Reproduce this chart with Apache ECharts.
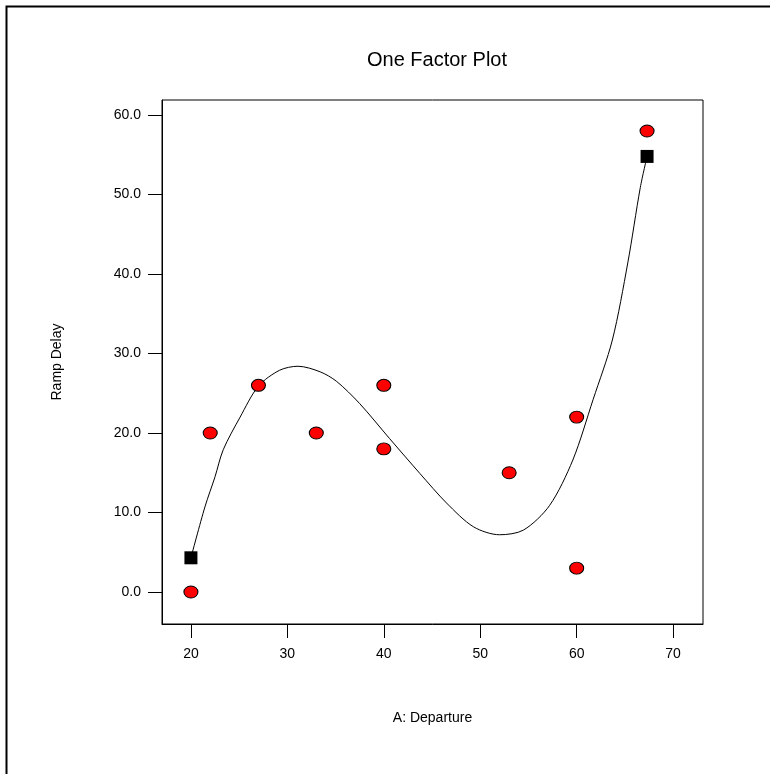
<!DOCTYPE html>
<html>
<head>
<meta charset="utf-8">
<script src="https://cdn.jsdelivr.net/npm/echarts@6/dist/echarts.min.js"></script>
<style>
  html, body { margin: 0; padding: 0; background: #fff; }
  #main { width: 770px; height: 774px; }
</style>
</head>
<body>
<div id="main"></div>
<script>
// observed runs (A: Departure, Ramp Delay)
var runX = [20, 22, 27, 33, 40, 40, 53, 60, 60, 67.3];
var runY = [0, 20, 26, 20, 26, 18, 15, 22, 3, 58];

// model prediction curve
var fitX = [20, 21.45, 22.5, 23.35, 25.1, 27, 29.2, 31.1, 33.4, 35.1, 37.5, 40.6,
            43.75, 46.5, 49.3, 52, 54.5, 57.2, 59.6, 61.7, 63.7, 65.3, 66.6, 67.3];
var fitY = [4.3, 10.7, 14.5, 17.9, 22.0, 25.9, 27.9, 28.4, 27.7, 26.5, 23.7, 19.3,
            14.9, 11.2, 8.2, 7.2, 7.8, 10.9, 16.6, 24.2, 31.7, 41.4, 50.9, 54.8];

// end points of the factor range (black squares)
var endX = [20, 67.3];
var endY = [4.3, 54.8];

var xTicks = [20, 30, 40, 50, 60, 70];
var yTicks = [0, 10, 20, 30, 40, 50, 60];

var zip = function (xs, ys) {
    return xs.map(function (x, i) { return [x, ys[i]]; });
};

var myChart = echarts.init(document.getElementById('main'));
var font = 'Arial, "Liberation Sans", sans-serif';

var option = {
    animation: false,
    backgroundColor: '#fff',
    title: {
        text: 'One Factor Plot',
        left: 432,
        top: 45,
        textAlign: 'center',
        textStyle: { fontFamily: font, fontSize: 20, fontWeight: 'normal', color: '#000' }
    },
    graphic: [{
        type: 'rect',
        left: 4,
        top: 4,
        shape: { width: 820, height: 820 },
        style: { fill: 'none', stroke: '#000', lineWidth: 2 },
        silent: true
    }],
    grid: {
        left: 162, right: 67, top: 100, bottom: 150,
        show: true, borderColor: '#000', borderWidth: 1, backgroundColor: 'transparent'
    },
    xAxis: {
        type: 'value',
        min: 17, max: 73.1,
        name: 'A: Departure',
        nameLocation: 'middle',
        nameGap: 87,
        nameTextStyle: { fontFamily: font, fontSize: 14, color: '#000' },
        splitLine: { show: false },
        axisLine: { show: true, onZero: false, lineStyle: { color: '#000', width: 1 } },
        axisTick: { show: true, length: 14, customValues: xTicks, lineStyle: { color: '#000' } },
        axisLabel: {
            customValues: xTicks, margin: 23,
            fontFamily: font, fontSize: 14, color: '#000'
        }
    },
    yAxis: {
        type: 'value',
        min: -4.03, max: 61.9,
        name: 'Ramp Delay',
        nameLocation: 'middle',
        nameRotate: 90,
        nameGap: 98,
        nameTextStyle: { fontFamily: font, fontSize: 14, color: '#000' },
        splitLine: { show: false },
        axisLine: { show: true, onZero: false, lineStyle: { color: '#000', width: 1 } },
        axisTick: { show: true, length: 14, customValues: yTicks, lineStyle: { color: '#000' } },
        axisLabel: {
            customValues: yTicks, margin: 21,
            fontFamily: font, fontSize: 14, color: '#000',
            formatter: function (v) { return v.toFixed(1); }
        }
    },
    series: [
        {
            name: 'Prediction',
            type: 'line',
            data: zip(fitX, fitY),
            showSymbol: false,
            smooth: 0.3,
            lineStyle: { color: '#000', width: 1 },
            z: 2
        },
        {
            name: 'Design Points',
            type: 'scatter',
            data: zip(runX, runY),
            symbol: 'circle',
            symbolSize: [14, 12],
            itemStyle: { color: '#ff0000', borderColor: '#000', borderWidth: 1, opacity: 1 },
            z: 3
        },
        {
            name: 'Range Ends',
            type: 'scatter',
            data: zip(endX, endY),
            symbol: 'rect',
            symbolSize: 13,
            itemStyle: { color: '#000', opacity: 1 },
            z: 4
        }
    ]
};

myChart.setOption(option);
</script>
</body>
</html>
